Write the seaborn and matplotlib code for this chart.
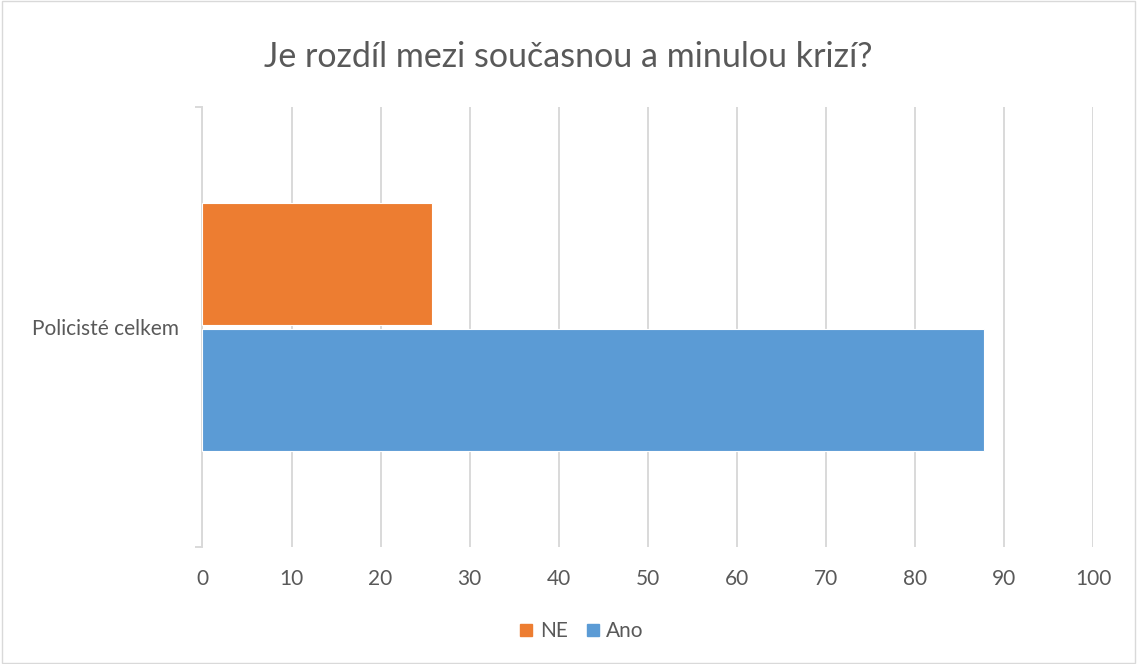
import pandas as pd
import seaborn as sns
import matplotlib.pyplot as plt
from matplotlib.patches import Rectangle
from matplotlib.lines import Line2D

# data
CATEGORIES = ["Policisté celkem"]
SERIES = ["NE", "Ano"]
VALUES_NE = [25.8]
VALUES_ANO = [87.8]
COLORS = {"NE": "#ED7D31", "Ano": "#5B9BD5"}
TITLE = "Je rozdíl mezi současnou a minulou krizí?"
TEXT_COLOR = "#595959"
GRID_COLOR = "#D9D9D9"

sns.set_theme(style="white")
plt.rcParams["font.family"] = ["Lato", "DejaVu Sans"]

df = pd.DataFrame({
    "kategorie": CATEGORIES * 2,
    "odpoved": ["NE"] * len(CATEGORIES) + ["Ano"] * len(CATEGORIES),
    "hodnota": VALUES_NE + VALUES_ANO,
})

fig = plt.figure(figsize=(11.37, 6.64), dpi=100)
ax = fig.add_axes([0.1781, 0.1762, 0.7832, 0.6627])

sns.barplot(
    data=df, x="hodnota", y="kategorie", hue="odpoved", hue_order=SERIES,
    palette=COLORS, saturation=1, orient="h", width=0.57, gap=0.03,
    edgecolor="white", linewidth=0.8, legend=False, ax=ax, zorder=3,
)

ax.set_xlim(0, 100)
ax.set_ylim(0.5, -0.5)
ax.set_xticks(range(0, 101, 10))
ax.xaxis.grid(True, color=GRID_COLOR, linewidth=1.4, zorder=0)
ax.set_axisbelow(True)
ax.set_xlabel("")
ax.set_ylabel("")

for side in ["top", "right", "bottom"]:
    ax.spines[side].set_visible(False)
ax.spines["left"].set_color(GRID_COLOR)
ax.spines["left"].set_linewidth(1.4)

ax.tick_params(axis="x", length=0, labelsize=15, labelcolor=TEXT_COLOR, pad=16)
ax.tick_params(axis="y", length=0, labelsize=15, labelcolor=TEXT_COLOR, pad=17)
ax.set_yticks([-0.5, 0.5], minor=True)
ax.tick_params(axis="y", which="minor", length=5, color=GRID_COLOR, width=1.4, left=True)

fig.text(0.5, 0.914, TITLE, ha="center", va="center", fontsize=24.5, color=TEXT_COLOR)

handles = [
    Line2D([], [], marker="s", linestyle="", markersize=8,
           markerfacecolor=COLORS[s], markeredgecolor=COLORS[s])
    for s in SERIES
]
fig.legend(handles, SERIES, loc="center", bbox_to_anchor=(0.51, 0.05), ncol=2,
           frameon=False, fontsize=15, labelcolor=TEXT_COLOR,
           handletextpad=0.15, columnspacing=0.7, handlelength=1.0)

fig.patches.append(Rectangle((0.0015, 0.002), 0.997, 0.996, transform=fig.transFigure,
                             fill=False, edgecolor=GRID_COLOR, linewidth=1))

fig.savefig("out.png", dpi=100)
